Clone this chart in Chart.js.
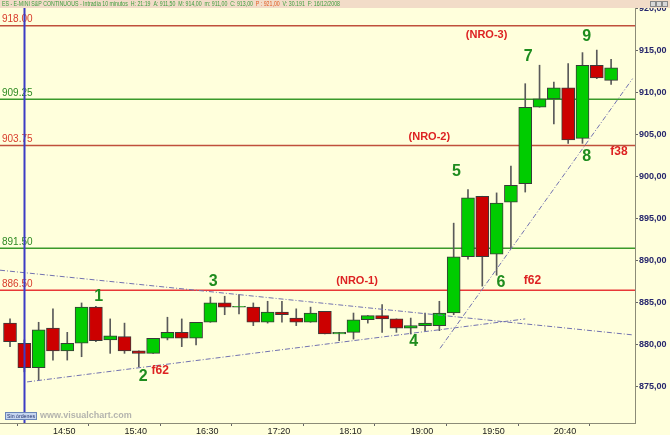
<!DOCTYPE html>
<html>
<head>
<meta charset="utf-8">
<script src="https://cdn.jsdelivr.net/npm/chart.js@4.4.1/dist/chart.umd.min.js"></script>
<style>
  html, body { margin: 0; padding: 0; background: #ffffdc; }
  #wrap { width: 670px; height: 435px; }
</style>
</head>
<body>
<div id="wrap"><canvas id="chart" width="670" height="435"></canvas></div>
<script>
// ES 10-minute bars, 16/12/2008 (index 0 = 14:20)
const times = ['14:20','14:30','14:40','14:50','15:00','15:10','15:20','15:30','15:40','15:50',
  '16:00','16:10','16:20','16:30','16:40','16:50','17:00','17:10','17:20','17:30',
  '17:40','17:50','18:00','18:10','18:20','18:30','18:40','18:50','19:00','19:10',
  '19:20','19:30','19:40','19:50','20:00','20:10','20:20','20:30','20:40','20:50',
  '21:00','21:10','21:20'];
const opens  = [882.6, 880.2, 877.3, 882.0, 879.3, 880.2, 884.5, 880.6, 881.0, 879.3,
  879.0, 880.8, 881.5, 880.8, 882.7, 885.0, 884.5, 884.5, 882.7, 883.9,
  883.2, 882.7, 884.0, 881.3, 881.5, 883.0, 883.5, 883.1, 882.0, 882.3,
  882.3, 883.8, 890.5, 897.7, 890.8, 897.0, 899.2, 908.3, 909.3, 910.6,
  904.6, 913.3, 911.5];
const highs  = [883.1, 880.6, 882.7, 884.3, 881.5, 885.0, 884.6, 883.1, 882.6, 879.3,
  880.8, 883.3, 883.1, 882.7, 885.7, 885.8, 886.0, 885.0, 885.2, 885.2,
  884.3, 884.5, 884.0, 881.5, 883.8, 883.5, 884.8, 883.1, 883.2, 883.8,
  885.2, 894.5, 898.5, 897.7, 898.1, 901.3, 911.1, 913.3, 911.3, 913.5,
  914.8, 915.1, 914.0];
const lows   = [879.8, 876.8, 875.8, 878.2, 878.2, 878.6, 880.4, 879.0, 879.0, 877.4,
  879.0, 880.6, 879.8, 880.0, 882.7, 883.6, 883.7, 882.3, 882.6, 882.7,
  882.3, 882.7, 881.3, 880.5, 880.7, 882.6, 881.5, 881.5, 881.3, 881.7,
  881.7, 883.6, 890.2, 887.0, 888.3, 891.5, 898.2, 908.3, 906.3, 904.0,
  904.0, 911.7, 911.0];
const closes = [880.4, 877.3, 881.8, 879.3, 880.2, 884.5, 880.5, 881.1, 879.3, 879.0,
  880.8, 881.5, 880.8, 882.7, 885.0, 884.5, 884.6, 882.7, 883.9, 883.6,
  882.7, 883.8, 881.3, 881.5, 883.0, 883.5, 883.1, 882.0, 882.3, 882.6,
  883.8, 890.5, 897.5, 890.5, 896.9, 899.0, 908.3, 909.3, 910.6, 904.4,
  913.3, 911.8, 913.0];

// horizontal levels
const levelValues = [918.00, 909.25, 903.75, 891.50, 886.50];
const levelColors = ['#c0503c', '#3a9a2a', '#c0503c', '#3a9a2a', '#e83838'];

// trend lines: [x0, y0, x1, y1] in bar index / price
const trendA = [-0.7, 888.9, 43.5, 881.2];
const trendB = [1.19, 875.6, 36.0, 883.1];
const trendC = [30.05, 879.6, 43.5, 911.7];

// wave counts and tags (bar index, price)
const waveLabels = ['1', '2', '3', '4', '5', '6', '7', '8', '9'];
const waveX = [6.2, 9.3, 14.2, 28.2, 31.2, 34.3, 36.2, 40.3, 40.3];
const waveY = [885.7, 876.2, 887.5, 880.4, 900.6, 887.4, 914.3, 902.4, 916.7];
const tagLabels = ['f62', '(NRO-1)', 'f62', '(NRO-2)', '(NRO-3)', 'f38'];
const tagX = [10.5, 24.25, 36.5, 29.3, 33.3, 42.55];
const tagY = [876.9, 887.6, 887.6, 904.8, 916.9, 903.0];

// axes
const xMin = -0.7, xMax = 43.67;
const yMin = 870.71, yMax = 920.11;
const xTickPos = [3, 8, 13, 18, 23, 28, 33, 38];
const xTickLabels = ['14:50', '15:40', '16:30', '17:20', '18:10', '19:00', '19:50', '20:40'];
const yTicks = [875, 880, 885, 890, 895, 900, 905, 910, 915, 920];
const cursorBar = 1;

const FONT = 'Liberation Sans, Arial, sans-serif';
const UP = '#00cc00', DOWN = '#cc0000';

const bodies = opens.map((o, i) => ({ x: i, y: [o, closes[i]] }));
const wicks = lows.map((l, i) => ({ x: i, y: [l, highs[i]] }));

function segment(t) {
  return [{ x: t[0], y: t[1] }, { x: t[2], y: t[3] }];
}

const levelSets = levelValues.map((v, i) => ({
  type: 'line',
  data: [{ x: xMin, y: v }, { x: xMax, y: v }],
  borderColor: levelColors[i],
  borderWidth: 1.5,
  pointRadius: 0,
  order: 5
}));

const trendSets = [trendA, trendB, trendC].map(t => ({
  type: 'line',
  data: segment(t),
  borderColor: '#7272b0',
  borderWidth: 1,
  borderDash: [5, 2, 1, 2],
  pointRadius: 0,
  order: 0
}));

const overlay = {
  id: 'overlay',
  beforeDraw(chart) {
    const ctx = chart.ctx;
    ctx.save();
    ctx.fillStyle = '#ffffdc';
    ctx.fillRect(0, 0, chart.width, chart.height);
    ctx.restore();
  },
  afterDatasetsDraw(chart) {
    const ctx = chart.ctx;
    const xs = chart.scales.x, ys = chart.scales.y;
    const area = chart.chartArea;
    ctx.save();

    // level labels
    ctx.font = '10px ' + FONT;
    ctx.textAlign = 'left';
    ctx.textBaseline = 'bottom';
    levelValues.forEach((v, i) => {
      ctx.fillStyle = levelColors[i] === '#3a9a2a' ? '#2e8a22' : '#d83c2c';
      ctx.fillText(v.toFixed(2), 2, ys.getPixelForValue(v) - 1);
    });

    // cursor line
    const cx = Math.round(xs.getPixelForValue(cursorBar)) + 0.5;
    ctx.strokeStyle = '#3c3cc4';
    ctx.lineWidth = 2;
    ctx.beginPath();
    ctx.moveTo(cx, area.top);
    ctx.lineTo(cx, area.bottom);
    ctx.stroke();

    // wave counts
    ctx.textAlign = 'center';
    ctx.textBaseline = 'middle';
    ctx.font = 'bold 16px ' + FONT;
    ctx.fillStyle = '#1e8c1e';
    waveLabels.forEach((s, i) => {
      ctx.fillText(s, xs.getPixelForValue(waveX[i]), ys.getPixelForValue(waveY[i]));
    });
    ctx.fillStyle = '#dd2222';
    tagLabels.forEach((s, i) => {
      ctx.font = (s.startsWith('f') ? 'bold 12px ' : 'bold 11px ') + FONT;
      ctx.fillText(s, xs.getPixelForValue(tagX[i]), ys.getPixelForValue(tagY[i]));
    });

    // bottom-left widgets
    ctx.fillStyle = '#c6d6f0';
    ctx.fillRect(5, 412, 32, 8);
    ctx.strokeStyle = '#6a86b8';
    ctx.lineWidth = 1;
    ctx.strokeRect(5.5, 412.5, 31, 7);
    ctx.fillStyle = '#1e2e6a';
    ctx.font = '6px ' + FONT;
    ctx.textAlign = 'left';
    ctx.fillText('Sin órdenes', 7, 416.5, 28);
    ctx.fillStyle = '#b4b4ae';
    ctx.font = 'bold 9px ' + FONT;
    ctx.fillText('www.visualchart.com', 40, 416);

    ctx.restore();
  },
  afterDraw(chart) {
    const ctx = chart.ctx;
    ctx.save();
    // header strip
    ctx.fillStyle = '#f2dcc8';
    ctx.fillRect(0, 0, chart.width, 8);
    const parts = [
      ['ES - E-MINI S&P CONTINUOUS - Intradía 10 minutos  H: 21:19  A: 911,50  M: 914,00  m: 911,00  C: 913,00  ', '#3c9c3c'],
      ['P : 921,00', '#e05a20'],
      ['  V: 30.191  F: 16/12/2008', '#3c9c3c']
    ];
    ctx.font = '7px ' + FONT;
    ctx.textBaseline = 'middle';
    ctx.textAlign = 'left';
    const total = parts.reduce((w, p) => w + ctx.measureText(p[0]).width, 0);
    const k = 338 / total;
    ctx.setTransform(k, 0, 0, 1, 2, 0);
    let x = 0;
    parts.forEach(p => {
      ctx.fillStyle = p[1];
      ctx.fillText(p[0], x, 4.5);
      x += ctx.measureText(p[0]).width;
    });
    ctx.setTransform(1, 0, 0, 1, 0, 0);
    // window buttons
    ctx.fillStyle = '#d8d8d8';
    ctx.strokeStyle = '#888';
    [650, 656, 662].forEach(bx => {
      ctx.fillRect(bx, 1, 5, 6);
      ctx.strokeRect(bx + 0.5, 1.5, 5, 5);
    });
    ctx.restore();
  }
};

new Chart(document.getElementById('chart'), {
  type: 'bar',
  data: {
    datasets: [
      ...trendSets,
      {
        data: bodies,
        backgroundColor: ctx => (closes[ctx.dataIndex] >= opens[ctx.dataIndex] ? UP : DOWN),
        borderColor: '#3a3a3a',
        borderWidth: 1,
        borderSkipped: false,
        barThickness: 13,
        grouped: false,
        order: 2
      },
      {
        data: wicks,
        backgroundColor: '#5a5a5a',
        borderWidth: 0,
        barThickness: 1,
        grouped: false,
        order: 3
      },
      ...levelSets
    ]
  },
  options: {
    responsive: false,
    animation: false,
    events: [],
    layout: { padding: { top: 8, left: 0, right: 0, bottom: 0 } },
    plugins: { legend: { display: false }, tooltip: { enabled: false } },
    scales: {
      x: {
        type: 'linear',
        min: xMin,
        max: xMax,
        offset: false,
        afterFit: s => { s.height = 12; },
        afterBuildTicks: s => { s.ticks = xTickPos.map(v => ({ value: v })); },
        grid: { drawOnChartArea: false, tickLength: 3, color: '#666' },
        border: { color: '#8c8c78', width: 1 },
        ticks: {
          align: 'start',
          padding: 0,
          maxRotation: 0,
          autoSkip: false,
          color: '#222',
          font: { family: FONT, size: 9 },
          callback: (v, i) => xTickLabels[i]
        }
      },
      y: {
        position: 'right',
        min: yMin,
        max: yMax,
        afterFit: s => { s.width = 35; },
        afterBuildTicks: s => { s.ticks = yTicks.map(v => ({ value: v })); },
        grid: { drawOnChartArea: false, tickLength: 3, color: '#666' },
        border: { color: '#8c8c78', width: 1 },
        ticks: {
          padding: 1,
          color: '#26266c',
          font: { family: FONT, size: 9, weight: 'bold' },
          callback: v => v.toFixed(2).replace('.', ',')
        }
      }
    }
  },
  plugins: [overlay]
});
</script>
</body>
</html>
